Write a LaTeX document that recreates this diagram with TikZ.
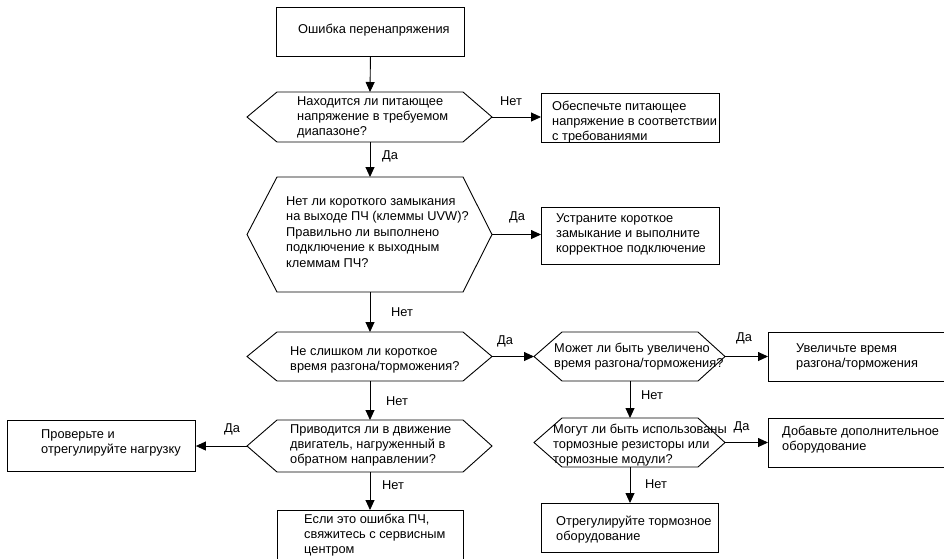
\documentclass[tikz,border=0pt]{standalone}
\usepackage{fontspec}
\setmainfont{Liberation Sans}
\usetikzlibrary{arrows.meta}
\newcommand\hexa[7]{%
  \coordinate (#1-L) at (#2,{(#6+#7)/2});
  \coordinate (#1-R) at (#5,{(#6+#7)/2});
  \coordinate (#1-T) at ({(#3+#4)/2},#6);
  \coordinate (#1-B) at ({(#3+#4)/2},#7);
  \draw[shp] (#1-L) -- (#3,#6) -- (#4,#6) -- (#1-R) -- (#4,#7) -- (#3,#7) -- cycle;
}
\begin{document}
\begin{tikzpicture}[x=1pt,y=-1pt,
  shp/.style={draw=black, line width=0.9pt, line join=miter},
  box/.style={draw=black, line width=0.9pt, rectangle, anchor=north west, inner sep=0pt},
  txt/.style={anchor=north west, inner sep=0pt, align=left, font=\fontsize{12.8}{15}\selectfont},
  lbl/.style={inner sep=0pt, font=\fontsize{12.8}{15}\selectfont},
  arr/.style={-{Triangle[length=10pt,width=9pt]}, line width=0.9pt}]
\useasboundingbox (0,0) rectangle (944,558);
\clip (0,0) rectangle (944,558);
\fill[white] (0,0) rectangle (944,558);

% boxes
\node[box, minimum width=188pt, minimum height=49pt] (b1) at (276,7) {};
\node[box, minimum width=178pt, minimum height=49pt] (b2) at (541,93) {};
\node[box, minimum width=178pt, minimum height=57pt] (b3) at (541,207) {};
\node[box, minimum width=182pt, minimum height=49pt] (b5) at (768,332) {};
\node[box, minimum width=182pt, minimum height=49pt] (b6) at (768,418) {};
\node[box, minimum width=177pt, minimum height=49pt] (b7) at (541,503) {};
\node[box, minimum width=188pt, minimum height=51pt] (b8) at (7,420) {};
\node[box, minimum width=186pt, minimum height=60pt] (b9) at (277,510) {};

% decisions
\hexa{h1}{247}{277}{463}{492}{92}{142}
\hexa{h2}{247}{277}{463}{492}{177}{292}
\hexa{h3}{247}{277}{463}{492}{332}{381}
\hexa{h6}{247}{277}{463}{492}{420}{472}
\hexa{h4}{534}{562}{698}{725}{332}{381}
\hexa{h5}{534}{562}{698}{725}{418}{467}

% texts
\node[txt] (t1) at (298,{33-10.5}) {\strut Ошибка перенапряжения};
\node[txt] (th1) at (297,{105-10.5}) {\strut Находится ли питающее\\напряжение в требуемом\\диапазоне?};
\begin{scope}
\clip (541,93) rectangle (719,142);
\node[txt] (tb2) at (552,{110-10.5}) {\strut Обеспечьте питающее\\напряжение в соответствии\\с требованиями};
\end{scope}
\node[txt, font=\fontsize{12.8}{15.5}\selectfont] (th2) at (286,{205-10.85}) {\strut Нет ли короткого замыкания\\на выходе ПЧ (клеммы UVW)?\\Правильно ли выполнено\\подключение к выходным\\клеммам ПЧ?};
\node[txt] (tb3) at (556,{222-10.5}) {\strut Устраните короткое\\замыкание и выполните\\корректное подключение};
\node[txt] (th3) at (290,{355-10.5}) {\strut Не слишком ли короткое\\время разгона/торможения?};
\node[txt] (th4) at (554,{352-10.5}) {\strut Может ли быть увеличено\\время разгона/торможения?};
\node[txt] (tb5) at (796,{352.5-10.5}) {\strut Увеличьте время\\разгона/торможения};
\node[txt] (th6) at (290,{433-10.5}) {\strut Приводится ли в движение\\двигатель, нагруженный в\\обратном направлении?};
\node[txt] (tb8) at (41,{438-10.5}) {\strut Проверьте и\\отрегулируйте нагрузку};
\node[txt] (th5) at (553,{433-10.5}) {\strut Могут ли быть использованы\\тормозные резисторы или\\тормозные модули?};
\node[txt] (tb6) at (782,{435-10.5}) {\strut Добавьте дополнительное\\оборудование};
\node[txt] (tb7) at (556,{525-10.5}) {\strut Отрегулируйте тормозное\\оборудование};
\node[txt] (tb9) at (304,{523.6-10.5}) {\strut Если это ошибка ПЧ,\\свяжитесь с сервисным\\центром};

% connectors
\draw[arr] (b1.south) -- (h1-T);
\draw[arr] (h1-R) -- (h1-R -| b2.west);
\draw[arr] (h1-B) -- (h2-T);
\draw[arr] (h2-R) -- (h2-R -| b3.west);
\draw[arr] (h2-B) -- (h3-T);
\draw[arr] (h3-R) -- (h4-L);
\draw[arr] (h3-B) -- (h6-T);
\draw[arr] (h6-L) -- (h6-L -| b8.east);
\draw[arr] (h6-B) -- (h6-B |- b9.north);
\draw[arr] (h4-R) -- (h4-R -| b5.west);
\draw[arr] (h4-B) -- (h5-T);
\draw[arr] (h5-R) -- (h5-R -| b6.west);
\draw[arr] (h5-B) -- (h5-B |- b7.north);

% labels
\node[lbl] (l1) at (511,101) {Нет};
\node[lbl] (l2) at (390,156) {Да};
\node[lbl] (l3) at (517,217) {Да};
\node[lbl] (l4) at (402,312) {Нет};
\node[lbl] (l5) at (505,341) {Да};
\node[lbl] (l6) at (397,401) {Нет};
\node[lbl] (l7) at (393,485) {Нет};
\node[lbl] (l8) at (232,429.5) {Да};
\node[lbl] (l9) at (744,338) {Да};
\node[lbl] (l10) at (652,395) {Нет};
\node[lbl] (l11) at (741.5,427) {Да};
\node[lbl] (l12) at (656,484) {Нет};
\end{tikzpicture}
\end{document}
